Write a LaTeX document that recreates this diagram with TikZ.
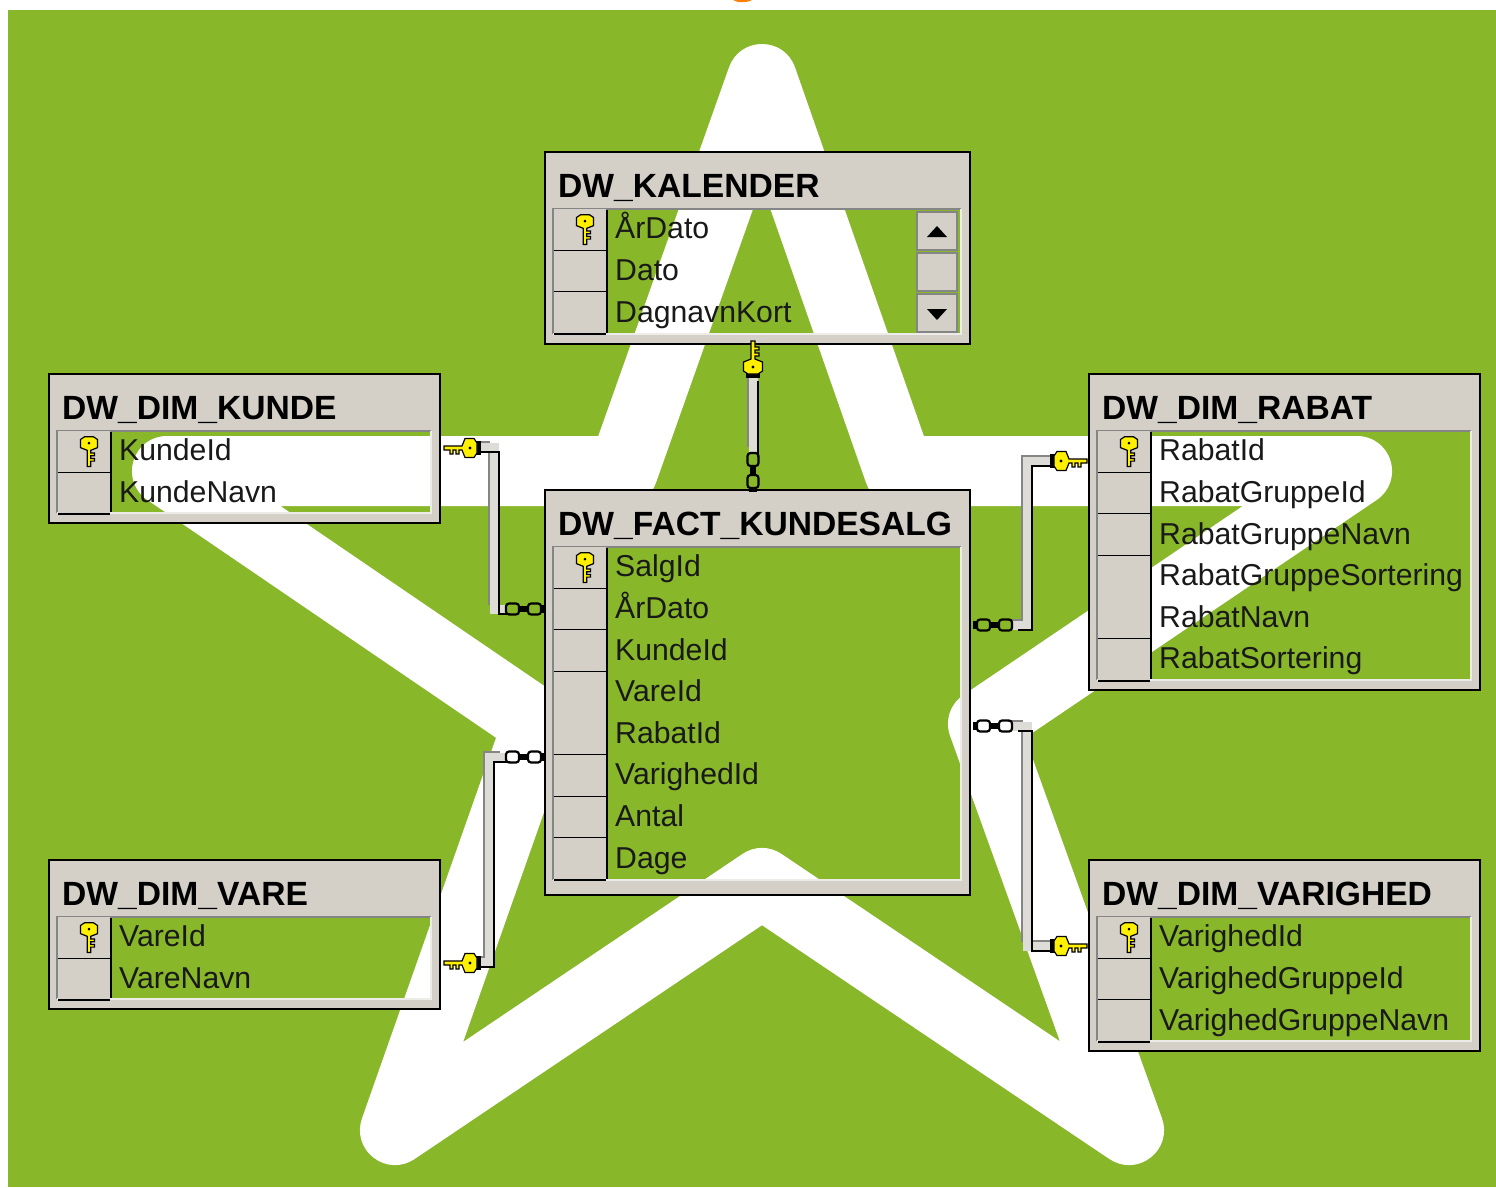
\documentclass[tikz,border=0pt]{standalone}
\usepackage{fontspec}
\setmainfont{Liberation Sans}
\usepackage{xcolor}
\usetikzlibrary{positioning}
\definecolor{starback}{HTML}{88B72A}
\definecolor{framegray}{HTML}{D4D0C8}
\definecolor{bevelgray}{HTML}{858585}
\definecolor{keyyellow}{HTML}{FFF000}
\definecolor{pipelight}{HTML}{DEDCD7}
\newcommand{\keyshape}{
    \draw[black, fill=keyyellow, line width=1.2pt] (-25,-2) -- (-7,-2) -- (-4,-9.5) -- (5,-9.5) -- (8,-5) -- (8,5) -- (5,9.5)
        -- (-4,9.5) -- (-7,2) -- (-10,2) -- (-10,6) -- (-13,6) -- (-13,2) -- (-16,2) -- (-16,6) -- (-19,6) -- (-19,2) -- (-25,2) -- cycle;
    \fill[black] (1,0) circle (1.6);
}
\tikzset{
      dbframe/.style={draw=black, line width=2.5pt, rectangle, inner sep=0pt, outer sep=0pt, anchor=north west},
      dbtitle/.style={font=\fontsize{33.6}{38}\selectfont\bfseries, inner sep=0pt, anchor=base west},
      dbfield/.style={font=\fontsize{30.2}{36}\selectfont, text=black!90, inner sep=0pt, anchor=base west},
      rowhead/.style={fill=framegray, rectangle, inner sep=0pt, minimum width=52pt, minimum height=41.6pt, anchor=west},
      scrollbtn/.style={fill=framegray, draw=bevelgray, line width=2pt, rectangle, inner sep=0pt, outer sep=0pt, minimum width=40pt, minimum height=38pt},
      port/.style={coordinate},
      pipe/.style={draw=pipelight, line width=9pt,
      preaction={draw=bevelgray, line width=2pt, transform canvas={shift={(-5pt,5pt)}}},
      postaction={draw=black, line width=2.5pt, transform canvas={shift={(5pt,-5pt)}}}},
      dbkey/.pic={\keyshape},
      capkey/.pic={
          \fill[black] (7,-7) rectangle (12,7);
          \keyshape
      },
      dbchain/.pic={
          \draw[black, line width=2.2pt, rounded corners=3pt] (1,-5.5) rectangle (14,5.5);
          \fill[black] (15,-3) rectangle (22,3);
          \draw[black, line width=2.2pt, rounded corners=3pt] (23,-5.5) rectangle (36,5.5);
          \fill[black] (36,-4) rectangle (40,4);
      }}
\newcommand{\dbtable}[8][10]{
    \fill[framegray, even odd rule] (#3,#4) rectangle (#5,#6) (#3+8,#4+57) rectangle (#5-9,#6-#1);
    \draw[bevelgray, line width=2pt] (#3+8,#6-#1) |- (#5-9,#4+57);
    \draw[framegray!40, line width=2pt] (#3+8,#6-#1) -| (#5-9,#4+57);
    \node[dbtitle] (#2-title) at (#3+13,#4+45) {#7};
    \foreach \fieldname [count=\row] in {#8} {
        \node[rowhead] (#2-row\row) at (#3+9,#4+57+41.6*\row-20.8) {};
        \draw[black, line width=2pt] (#2-row\row.south west) -- (#2-row\row.south east);
        \node[dbfield] (#2-field\row) at (#3+70,#4+57+41.6*\row-20.8+9) {\fieldname};
    }
    \draw[black, line width=2pt] (#3+62,#4+58) -- (#3+62,#6-#1-1);
    \pic[rotate=90, scale=.9] at (#3+40,#4+70) {dbkey};
    \node[dbframe, minimum width=#5pt-#3pt, minimum height=#6pt-#4pt] (#2) at (#3,#4) {};
}

\begin{document}
\begin{tikzpicture}[x=1pt,y=-1pt]
       \useasboundingbox (0,0) rectangle (1496,1187);
       \fill[orange] (733,0) .. controls (737,3) and (747,3) .. (752,0) -- cycle;
       \fill[starback] (8,10) rectangle (1496,1187);
       \draw[white, line width=70pt, line join=round] (762,79) -- (899,471) -- (1357,471) -- (983,724) -- (1129,1130)
           -- (762,883) -- (395,1130) -- (538,724) -- (167,471) -- (623,471) -- cycle;

       \dbtable{kalender}{545}{152}{970}{344}{DW\_KALENDER}{ÅrDato,Dato,DagnavnKort}
       \dbtable{kunde}{49}{374}{440}{523}{DW\_DIM\_KUNDE}{KundeId,KundeNavn}
       \dbtable{rabat}{1089}{374}{1480}{690}{DW\_DIM\_RABAT}{RabatId,RabatGruppeId,RabatGruppeNavn,RabatGruppeSortering,RabatNavn,RabatSortering}
       \dbtable[15]{fact}{545}{490}{970}{895}{DW\_FACT\_KUNDESALG}{SalgId,ÅrDato,KundeId,VareId,RabatId,VarighedId,Antal,Dage}
       \dbtable{vare}{49}{860}{440}{1009}{DW\_DIM\_VARE}{VareId,VareNavn}
       \dbtable{varighed}{1089}{860}{1480}{1051}{DW\_DIM\_VARIGHED}{VarighedId,VarighedGruppeId,VarighedGruppeNavn}

       \node[scrollbtn] (up) at (937,231) {};
       \node[scrollbtn, below=3pt of up] (mid) {};
       \node[scrollbtn, below=3pt of mid] (down) {};
       \fill[black] (927,237) -- (947,237) -- (937,226) -- cycle;
       \fill[black] (927,309) -- (947,309) -- (937,320) -- cycle;

       \node[port] (kundekey) at (475,447) {};
       \node[port] (kundebend) at (494,528) {};
       \node[port] (kundechain) at (505,609) {};
       \node[port] (varekey) at (475,962) {};
       \node[port] (varebend) at (489,860) {};
       \node[port] (varechain) at (505,757) {};
       \node[port] (rabatchain) at (1013,625) {};
       \node[port] (rabatbend) at (1027,543) {};
       \node[port] (rabatkey) at (1055,461) {};
       \node[port] (varighedchain) at (1013,726) {};
       \node[port] (varighedbend) at (1027,836) {};
       \node[port] (varighedkey) at (1055,946) {};
       \node[port] (kalenderkey) at (753,376) {};
       \node[port] (kalenderchain) at (753,452) {};

       \draw[pipe] (kundekey) -| (kundebend) |- (kundechain);
       \draw[pipe] (varekey) -| (varebend) |- (varechain);
       \draw[pipe] (rabatchain) -| (rabatbend) |- (rabatkey);
       \draw[pipe] (varighedchain) -| (varighedbend) |- (varighedkey);
       \draw[pipe] (kalenderkey) -- (kalenderchain);

       \pic at (469,448) {capkey};
       \pic at (469,963) {capkey};
       \pic[xscale=-1] at (1062,461) {capkey};
       \pic[xscale=-1] at (1062,946) {capkey};
       \pic[rotate=90, xscale=-1] at (753,366) {capkey};
       \pic at (kundechain) {dbchain};
       \pic at (varechain) {dbchain};
       \pic[xscale=-1] at (rabatchain) {dbchain};
       \pic[xscale=-1] at (varighedchain) {dbchain};
       \pic[rotate=-90] at (kalenderchain) {dbchain};
\end{tikzpicture}
\end{document}
